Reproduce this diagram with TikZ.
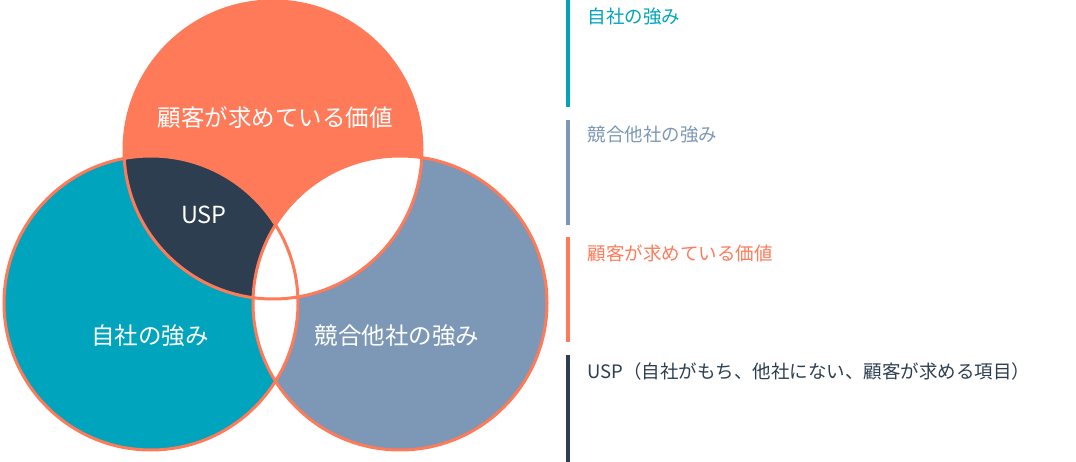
\documentclass[tikz,border=0pt]{standalone}
\usepackage{fontspec}
\setmainfont{Noto Sans CJK JP}
\definecolor{ora}{HTML}{FF7A59}
\definecolor{tea}{HTML}{00A4BD}
\definecolor{gry}{HTML}{7C98B6}
\definecolor{nav}{HTML}{2D3E50}
\tikzset{
  bar/.style={line width=4pt},
  key/.style={anchor=west,font=\fontsize{18.5}{18.5}\selectfont},
  big/.style={text=white,font=\fontsize{23.5}{23.5}\selectfont}
}
\begin{document}
\begin{tikzpicture}[x=1pt,y=-1pt]
  \useasboundingbox (0,0) rectangle (1076,462);
  \coordinate (ct) at (273,150);
  \coordinate (cl) at (151,303);
  \coordinate (cr) at (400,303);
  \def\rt{149}
  \def\rl{147}
  \def\rr{147}

  \fill[tea] (cl) circle (\rl);
  \fill[gry] (cr) circle (\rr);
  \fill[ora] (ct) circle (\rt);
  \begin{scope}
    \clip (ct) circle (\rt);
    \fill[nav] (cl) circle (\rl);
    \fill[white] (cr) circle (\rr);
  \end{scope}
  \begin{scope}
    \clip (cl) circle (\rl);
    \fill[white] (cr) circle (\rr);
  \end{scope}
  \draw[ora,line width=3pt] (cl) circle (\rl) (cr) circle (\rr) (ct) circle (\rt);

  \node[big] (top) at (275,118) {顧客が求めている価値};
  \node[big] (usp) at (204,215) {USP};
  \node[big] (own) at (150,336) {自社の強み};
  \node[big] (cmp) at (397,336) {競合他社の強み};

  \draw[bar,tea] (568,0) -- (568,107);
  \draw[bar,gry] (568,120) -- (568,225);
  \draw[bar,ora] (568,237) -- (568,342);
  \draw[bar,nav] (568,355) -- (568,462);

  \node[key,text=tea] (k1) at (584,17) {自社の強み};
  \node[key,text=gry] (k2) at (584,135) {競合他社の強み};
  \node[key,text=ora] (k3) at (584,253) {顧客が求めている価値};
  \node[key,text=nav] (k4) at (584,371) {USP（自社がもち、他社にない、顧客が求める項目）};
\end{tikzpicture}
\end{document}
